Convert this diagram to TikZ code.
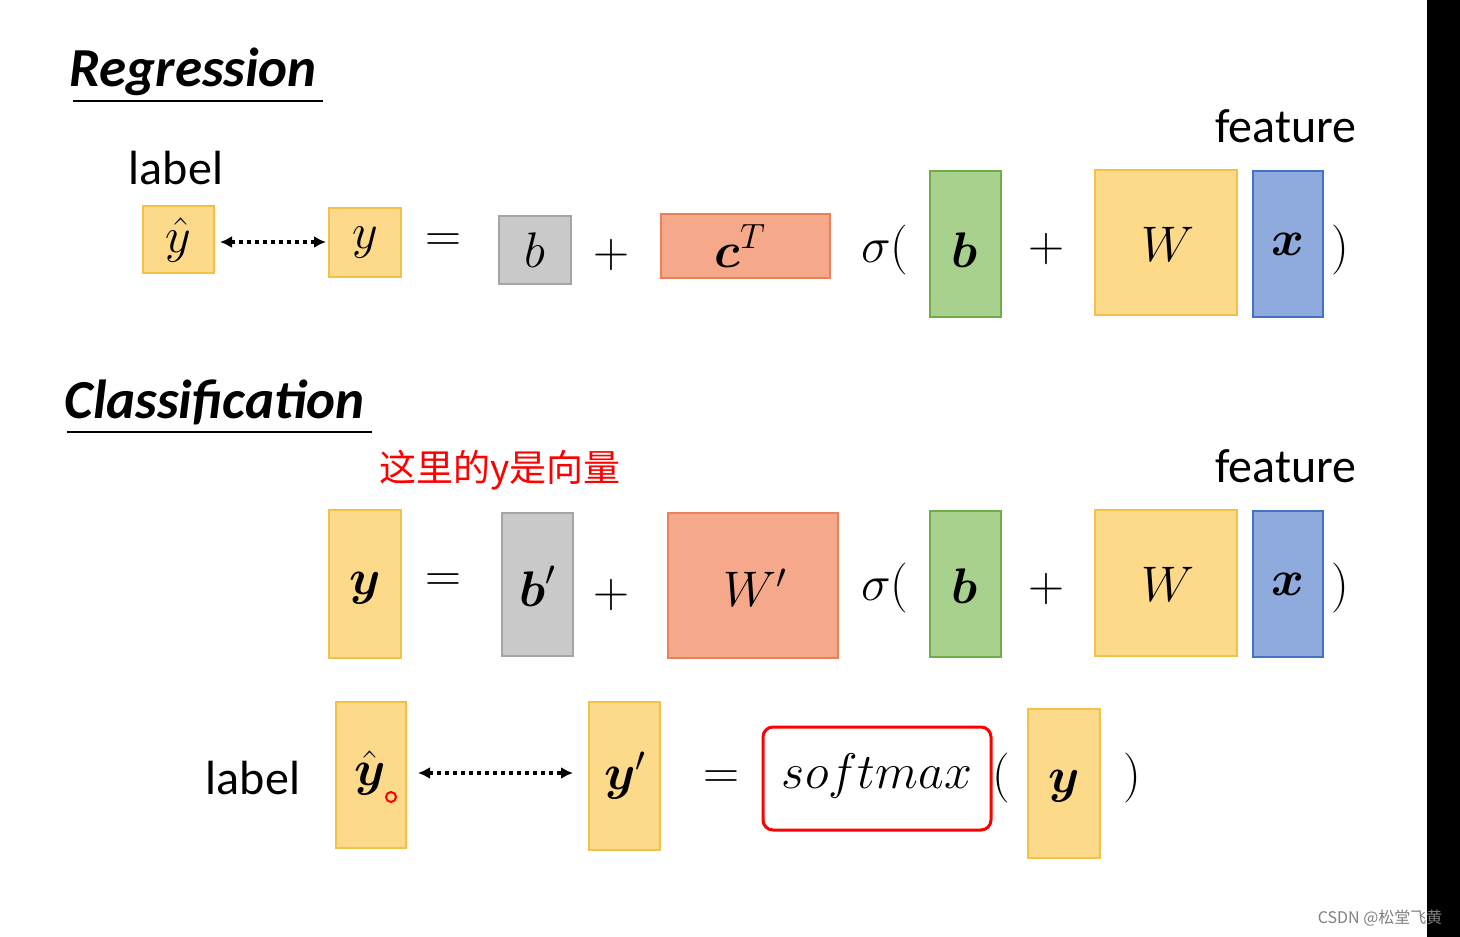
\RequirePackage{fix-cm}
\documentclass[tikz,border=0pt]{standalone}
\usepackage{amsmath}
\usepackage{fontspec}
\setmainfont{Carlito}
\newfontfamily\cjk{Noto Sans CJK SC}
\usetikzlibrary{arrows.meta}
\definecolor{yf}{HTML}{FDD98A}\definecolor{yb}{HTML}{F5C04A}
\definecolor{sf}{HTML}{F6A98A}\definecolor{sb}{HTML}{E9825A}
\definecolor{gf}{HTML}{C9C9C9}\definecolor{gb}{HTML}{A5A5A5}
\definecolor{nf}{HTML}{A9D18E}\definecolor{nb}{HTML}{70AD47}
\definecolor{bf}{HTML}{8FAADC}\definecolor{bb}{HTML}{4472C4}
\begin{document}
\begin{tikzpicture}[x=1pt,y=-1pt,
 box/.style={draw=#1b,fill=#1f,line width=1.5pt},
 txt/.style={font=\fontsize{48}{48}\selectfont},
 mth/.style={font=\fontsize{50}{50}\selectfont},
 ttl/.style={font=\fontsize{55}{55}\selectfont\bfseries\itshape},
 dar/.style={{Latex[length=12pt,width=12pt]}-{Latex[length=12pt,width=12pt]},line width=4pt,dash pattern=on 4pt off 4pt}]
\useasboundingbox (0,0) rectangle (1460,937);
\fill[white] (0,0) rectangle (1460,937);
\fill[black] (1427,0) rectangle (1460,937);
% Regression
\node[ttl,anchor=west] (rt) at (66,72) {Regression};
\draw[line width=2pt] (73,101) -- (323,101);
\node[txt] (f1) at (1286,126) {feature};
\node[txt] (l1) at (176,168) {label};
\draw[box=y] (143,206) rectangle (214,273); \node[mth] (yh1) at (178.5,240) {$\hat{y}$};
\draw[box=y] (329,208) rectangle (401,277); \node[mth] (y1) at (365,243) {$y$};
\coordinate (a1) at (220,242); \coordinate (a2) at (326,242);
\draw[dar] (a1) -- (a2);
\node[mth] (e1) at (443,243) {$=$};
\draw[box=g] (499,216) rectangle (571,284); \node[mth] (b1) at (535,250) {$b$};
\node[mth] (p1) at (611,255) {$+$};
\draw[box=s] (661,214) rectangle (830,278); \node[mth] (c1) at (740,246) {$\boldsymbol{c}^T$};
\node[mth] (s1) at (885,250) {$\sigma($};
\draw[box=n] (930,171) rectangle (1001,317); \node[mth] (bb1) at (965,250) {$\boldsymbol{b}$};
\node[mth] (p2) at (1046,249) {$+$};
\draw[box=y] (1095,170) rectangle (1237,315); \node[mth] (w1) at (1168,244) {$W$};
\draw[box=b] (1253,171) rectangle (1323,317); \node[mth] (x1) at (1288,244) {$\boldsymbol{x}$};
\node[mth] (r1) at (1340,250) {$)$};
% Classification
\node[ttl,anchor=west] (ct) at (61,402) {Classification};
\draw[line width=2pt] (67,432) -- (372,432);
\node[anchor=west,text=red,font=\fontsize{37}{37}\selectfont\cjk] (zh) at (376,470) {这里的y是向量};
\node[txt] (f2) at (1286,466) {feature};
\draw[box=y] (329,510) rectangle (401,658); \node[mth] (y2) at (365,588) {$\boldsymbol{y}$};
\node[mth] (e2) at (443,583) {$=$};
\draw[box=g] (502,513) rectangle (573,656); \node[mth] (b2) at (538,586) {$\boldsymbol{b}'$};
\node[mth] (p3) at (611,595) {$+$};
\draw[box=s] (668,513) rectangle (838,658); \node[mth] (w2) at (755,588) {$W'$};
\node[mth] (s2) at (885,588) {$\sigma($};
\draw[box=n] (930,511) rectangle (1001,657); \node[mth] (bb2) at (965,586) {$\boldsymbol{b}$};
\node[mth] (p4) at (1046,589) {$+$};
\draw[box=y] (1095,510) rectangle (1237,656); \node[mth] (w3) at (1168,584) {$W$};
\draw[box=b] (1253,511) rectangle (1323,657); \node[mth] (x2) at (1288,584) {$\boldsymbol{x}$};
\node[mth] (r2) at (1340,588) {$)$};
% label row
\node[txt] (l2) at (253,778) {label};
\draw[box=y] (336,702) rectangle (406,848); \node[mth] (yh2) at (370,773) {$\hat{\boldsymbol{y}}$};
\draw[red,line width=2pt] (391,797) circle (5);
\draw[box=y] (589,702) rectangle (660,850); \node[mth] (yp) at (625,776) {$\boldsymbol{y}'$};
\coordinate (a3) at (418,773); \coordinate (a4) at (573,773);
\draw[dar] (a3) -- (a4);
\node[mth] (e3) at (721,780) {$=$};
\draw[red,line width=3pt,rounded corners=10pt] (763,727) rectangle (991,830);
\node[mth] (sm) at (877,776) {$softmax$};
\node[mth] (lp) at (1001,778) {$($};
\draw[box=y] (1028,709) rectangle (1100,858); \node[mth] (y3) at (1064,786) {$\boldsymbol{y}$};
\node[mth] (rp) at (1132,778) {$)$};
\node[anchor=east,text=gray,font=\fontsize{16}{16}\selectfont\cjk] (cs) at (1446,918) {CSDN @松堂飞黄};
\end{tikzpicture}
\end{document}
